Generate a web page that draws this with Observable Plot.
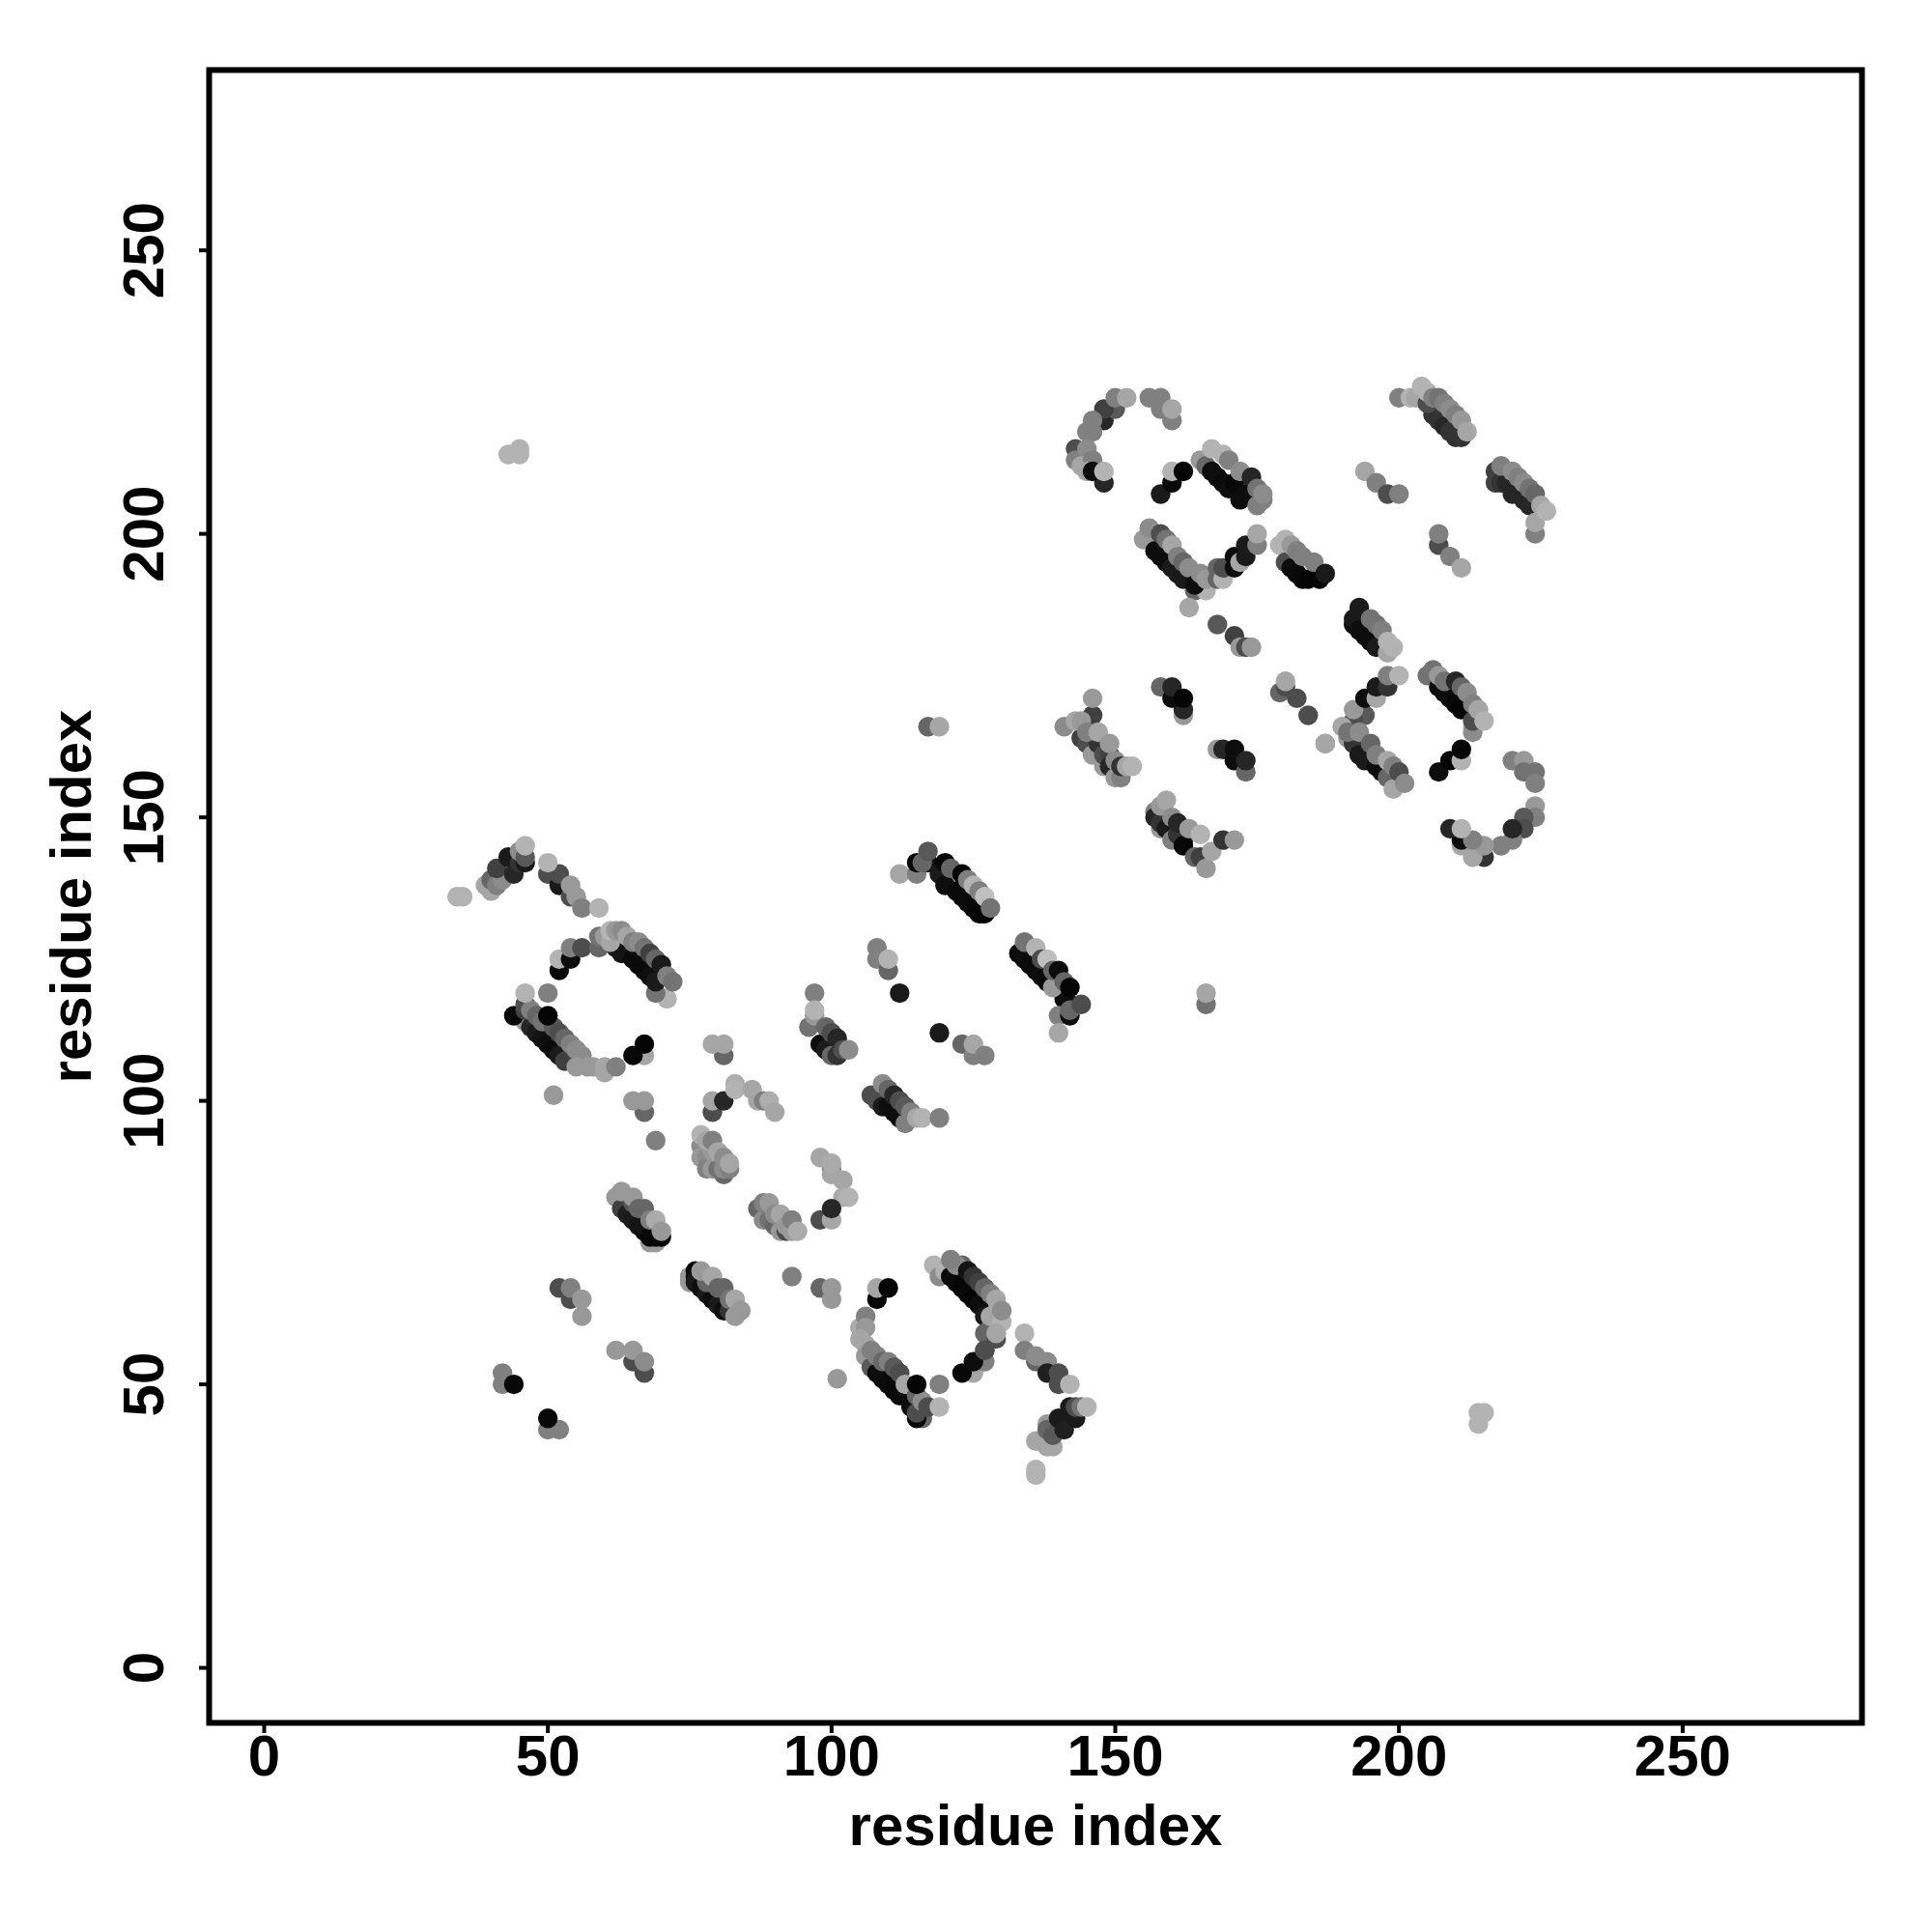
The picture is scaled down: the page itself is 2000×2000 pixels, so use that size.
<!DOCTYPE html>
<html>
<head>
<meta charset="utf-8">
<script src="https://cdn.jsdelivr.net/npm/d3@7"></script>
<script src="https://cdn.jsdelivr.net/npm/@observablehq/plot@0.6"></script>
<style>html,body{margin:0;padding:0;background:#fff}svg{display:block}</style>
</head>
<body>
<div id="chart"></div>
<script>
// each entry: [residue i, residue j, shade]
const lowerLeft = [[42,52,.5],[42,50,.5],[44,50,.03],[50,42,.5],[52,42,.5],[50,44,.03],[65,54,.3],[67,52,.3],[62,56,.6],[65,56,.6],[67,54,.55],[52,67,.3],[54,65,.3],[54,67,.5],[56,65,.6],[56,62,.6],[51,101,.6],[67,98,.4],[65,100,.6],[67,100,.6],[69,93,.5]];
const strandA = [[69,75,.6],[68,75,.6],[62,83,.6],[64,82,.35],[63,81,.25],[64,80,.12],[65,79,.1],[66,78,.08],[67,77,.05],[67,78,.08],[68,76,.03],[70,76,.02],[69,76,.03],[63,84,.6],[65,82,.35],[65,83,.6],[66,81,.4],[67,81,.4],[68,79,.5],[69,79,.67],[70,77,.6]];
const strandB = [[75,69,.6],[75,68,.6],[76,70,.03],[76,69,.05],[76,68,.1],[77,67,.05],[78,66,.1],[79,65,.05],[80,64,.1],[81,63,.05],[82,63,.2],[78,68,.4],[77,70,.6],[79,69,.65],[80,67,.4],[81,67,.4],[82,65,.45],[83,62,.6],[83,65,.65],[84,63,.6]];
const clusterC = [[77,92,.55],[77,90,.6],[78,90,.55],[78,88,.5],[79,88,.6],[81,87,.4],[80,88,.45],[81,88,.55],[82,88,.5],[79,91,.6],[77,94,.7],[78,93,.65],[79,93,.5],[80,91,.65],[81,90,.55],[82,89,.65]];
const clusterD = [[87,81,.4],[88,79,.55],[89,79,.45],[90,78,.4],[91,77,.6],[92,77,.3],[93,77,.6],[88,82,.5],[89,82,.6],[90,80,.55],[91,80,.65],[92,78,.6],[93,79,.5],[94,77,.67]];
const clusterE = [[79,98,.3],[79,100,.65],[81,100,.15],[83,103,.68],[83,102,.7],[86,102,.65],[87,100,.65],[88,100,.5],[89,100,.68],[90,98,.65]];
const clusterF = [[98,90,.65],[100,88,.5],[100,87,.65],[100,89,.67],[102,86,.65],[102,83,.67],[103,83,.7],[98,79,.3],[100,79,.65],[100,81,.15],[93,69,.5],[98,67,.4],[100,65,.6],[100,67,.6],[101,51,.6]];
const strandG = [[105,60,.67],[106,62,.5],[106,60,.6],[105,58,.65],[106,57,.65],[106,55,.6],[107,53,.35],[108,52,.05],[109,51,.05],[110,50,.04],[111,49,.03],[112,48,.04],[114,46,.05],[116,44,.4],[115,44,.03],[115,45,.3],[107,56,.5],[108,55,.5],[109,54,.4],[110,54,.5],[111,53,.35],[112,52,.3],[113,50,.65],[115,48,.4],[116,47,.55],[117,46,.3],[119,46,.7],[108,65,.03],[108,67,.65],[110,67,.02],[115,50,.02],[119,50,.5]];
const hoopBottom = [[127,59,.4],[127,56,.3],[125,52,.65],[127,54,.5],[123,52,.03],[125,54,.05],[127,56,.3]];
const strandH = [[118,71,.7],[119,69,.55],[120,70,.7],[121,69,.04],[122,68,.04],[123,67,.02],[124,66,.03],[125,65,.02],[126,64,.05],[127,62,.1],[129,59,.3],[129,58,.3],[128,60,.4],[123,71,.4],[122,71,.55],[121,72,.5],[124,70,.08],[125,69,.2],[126,68,.25],[127,67,.4],[128,66,.5],[128,62,.65],[130,61,.7],[129,59,.65],[129,65,.65],[130,63,.55]];
const tailRight = [[134,59,.7],[134,56,.5],[136,54,.4],[136,55,.55],[138,54,.55],[138,52,.12],[140,50,.3],[140,52,.3],[142,50,.7]];
const helixI = [[136,34,.7],[136,35,.7],[136,40,.65],[137,40,.65],[138,39,.65],[139,39,.65],[138,43,.6],[138,42,.4],[139,41,.35],[140,44,.1],[141,42,.12],[142,46,.1],[143,44,.1],[143,46,.3],[144,46,.45],[145,46,.7]];
const arcLeft = [[34,136,.7],[35,136,.7],[39,138,.65],[40,137,.65],[40,139,.4],[41,138,.5],[42,139,.55],[41,141,.25],[43,143,.1],[44,140,.15],[45,142,.2],[46,142,.1],[45,144,.55],[46,143,.35],[46,145,.7]];
const arcDown = [[50,140,.3],[52,138,.1],[54,136,.3],[52,140,.3],[50,142,.7],[54,138,.6],[55,136,.6],[56,134,.5],[59,134,.7]];
const strandJ = [[52,123,.03],[52,125,.7],[54,125,.05],[54,127,.5],[56,127,.3],[59,127,.4],[59,129,.45],[60,129,.6],[71,118,.7],[69,119,.45],[62,127,.1],[63,126,.08],[65,125,.04],[66,124,.04],[67,123,.04],[68,122,.06],[69,121,.1],[61,128,.65],[61,130,.7],[62,130,.6],[63,130,.55],[64,129,.65],[65,128,.5],[66,128,.55],[67,127,.45],[68,126,.25],[69,125,.4],[70,124,.1],[71,122,.5],[72,121,.45]];
const strandK = [[46,114,.6],[44,115,.03],[47,113,.15],[48,112,.1],[49,111,.07],[50,110,.05],[51,109,.04],[52,108,.1],[53,107,.25],[46,116,.25],[46,117,.3],[47,116,.5],[48,115,.4],[46,119,.7],[50,119,.5],[49,114,.45],[51,113,.35],[52,112,.3],[53,111,.4],[54,110,.5],[55,109,.55],[56,108,.55],[55,106,.6],[57,106,.6],[58,106,.6],[60,105,.65],[60,106,.65],[62,106,.5],[50,115,.02],[67,108,.65],[65,108,.03],[67,110,.02],[81,108,.4],[79,110,.65],[81,110,.65]];
const strandL = [[112,140,.65],[115,140,.5],[120,139,.7],[115,142,.03],[117,142,.05],[119,140,.1],[120,138,.05],[122,137,.04],[123,136,.04],[124,135,.04],[125,134,.03],[126,133,.02],[127,133,.02],[116,142,.4],[117,144,.35],[120,142,.03],[121,141,.4],[123,140,.02],[124,139,.5],[125,138,.7],[126,137,.5],[127,136,.75],[128,134,.45]];
const strandM = [[133,126,.05],[134,125,.05],[135,124,.04],[136,123,.04],[137,122,.05],[138,121,.04],[140,120,.05],[141,118,.05],[142,117,.05],[139,120,.6],[140,115,.5],[140,112,.65],[142,115,.05],[142,116,.4],[134,128,.45],[136,127,.7],[137,125,.3],[138,125,.75],[139,123,.4],[140,123,.05],[141,121,.4],[142,120,.02],[144,117,.3]];
const middlePairs = [[108,127,.5],[108,125,.5],[110,123,.4],[110,125,.7],[112,119,.1],[119,112,.1],[123,110,.4],[125,108,.5],[125,110,.65],[127,108,.5]];
const clusterN = [[96,113,.45],[98,110,.05],[99,109,.1],[100,108,.4],[101,108,.2],[97,119,.5],[97,115,.6],[97,116,.7],[99,113,.4],[100,112,.3],[101,111,.15],[102,109,.3],[103,109,.55]];
const strandN = [[107,101,.3],[108,100,.3],[109,99,.1],[110,99,.05],[111,98,.05],[112,97,.05],[113,96,.5],[109,103,.55],[110,102,.4],[111,101,.15],[112,100,.3],[113,99,.35],[114,98,.5],[115,97,.65],[116,97,.7],[119,97,.5]];
const clusterP = [[146,168,.25],[146,171,.6],[141,166,.55],[144,164,.25],[145,163,.3],[146,161,.6],[147,163,.2],[143,167,.65],[144,167,.6],[145,165,.5],[147,165,.65],[148,159,.6],[148,161,.3],[149,161,.25],[149,159,.15],[150,157,.6],[151,157,.5],[149,163,.6],[150,160,.55],[151,159,.2],[152,159,.65],[153,159,.7]];
const clusterQ = [[157,151,.5],[158,148,.6],[157,150,.15],[158,149,.2],[159,148,.1],[160,146,.5],[161,147,.2],[162,146,.2],[162,145,.03],[164,143,.4],[165,143,.25],[166,141,.6],[158,152,.6],[159,153,.65],[160,150,.55],[161,149,.15],[163,148,.6],[165,147,.7],[167,144,.65],[169,146,.2],[171,146,.6]];
const midUpper = [[158,173,.4],[162,168,.6],[162,169,.15],[160,171,.05],[160,173,.15],[162,171,.02],[168,162,.6],[169,162,.15],[171,160,.05],[171,162,.05],[173,158,.4],[173,160,.15],[179,172,.4],[180,173,.3],[180,174,.65],[182,171,.3],[184,168,.3],[187,163,.65]];
const arcR = [[148,220,.15],[150,222,.35],[148,222,.25],[150,224,.5],[152,224,.65],[146,220,.5],[145,218,.5],[146,218,.5],[143,215,.3],[143,213,.5],[145,215,.55],[144,212,.65],[146,213,.5],[145,211,.65],[148,209,.15],[146,211,.05],[148,211,.7],[156,224,.5],[158,222,.5],[158,224,.5],[160,220,.5],[160,222,.65]];
const clusterS = [[158,207,.1],[160,209,.03],[160,211,.7],[162,211,.02],[165,213,.6],[166,212,.4],[167,211,.05],[168,210,.05],[169,209,.04],[170,208,.05],[171,209,.03],[172,206,.05],[173,207,.05],[175,205,.5],[176,206,.5],[167,215,.7],[169,214,.7],[170,213,.5],[172,211,.55],[174,210,.15],[175,208,.45],[176,207,.55]];
const clusterT = [[155,199,.6],[157,197,.05],[158,196,.05],[159,195,.05],[160,194,.1],[161,193,.1],[162,192,.1],[164,190,.4],[166,190,.7],[163,187,.65],[156,201,.55],[158,200,.3],[159,199,.45],[160,198,.65],[161,196,.5],[162,195,.4],[163,194,.55],[164,191,.05],[165,193,.55],[166,192,.6],[168,192,.4],[168,194,.4],[169,192,.7],[169,194,.3],[171,194,.05],[171,196,.05],[172,195,.65],[173,196,.1],[173,198,.1],[175,198,.5],[175,200,.65]];
const clusterU = [[179,198,.7],[180,195,.3],[181,194,.05],[182,193,.04],[183,192,.03],[184,192,.02],[186,192,.02],[180,199,.7],[181,198,.6],[182,197,.5],[183,196,.5],[185,195,.5],[187,193,.1]];
const midDiag = [[168,184,.35],[171,182,.25],[172,180,.6],[173,180,.3],[174,180,.6]];
const strandV = [[192,184,.05],[192,185,.1],[193,187,.1],[193,183,.05],[194,182,.05],[195,181,.05],[196,180,.1],[198,179,.65],[195,185,.45],[196,184,.45],[197,183,.5],[198,181,.7],[199,180,.7]];
const clusterW = [[194,168,.35],[192,167,.3],[192,169,.6],[194,171,.05],[196,171,.65],[196,173,.1],[198,173,.2],[198,175,.5],[200,175,.7],[190,166,.65],[191,164,.6],[192,163,.2],[193,161,.1],[194,160,.1],[195,160,.1],[196,159,.05],[197,158,.05],[198,157,.4],[199,155,.65],[191,165,.45],[193,165,.55],[195,163,.4],[196,161,.5],[198,160,.65],[199,159,.5],[200,158,.3],[201,156,.55],[187,163,.65]];
const clusterX = [[205,175,.45],[207,173,.05],[208,172,.05],[209,171,.05],[210,170,.03],[211,169,.02],[213,166,.7],[213,165,.55],[213,167,.3],[206,176,.45],[207,175,.6],[208,174,.45],[210,174,.15],[211,173,.4],[212,172,.55],[213,170,.5],[214,169,.65],[215,167,.7]];
const hoopX = [[207,158,.05],[209,160,.02],[211,160,.7],[211,162,.02],[207,198,.3],[207,200,.5],[209,196,.5],[211,194,.65]];
const arcY = [[220,160,.5],[222,160,.6],[222,158,.45],[224,158,.45],[224,156,.5],[224,152,.6],[224,150,.5],[222,150,.35],[222,148,.3],[220,146,.5],[220,148,.15],[218,145,.5],[215,143,.2],[213,143,.65],[215,145,.6],[211,145,.65],[211,146,.05],[213,146,.5],[209,148,.15],[211,148,.7]];
const strandZ = [[206,221,.2],[207,220,.2],[208,219,.15],[209,218,.2],[211,217,.2],[210,217,.2],[200,224,.5],[202,224,.7],[203,224,.65],[205,223,.3],[204,226,.7],[205,225,.7],[206,224,.5],[207,224,.45],[208,223,.5],[209,222,.55],[210,221,.5],[211,220,.6],[212,218,.65],[194,211,.65],[196,209,.5],[198,207,.3],[200,207,.5]];
const strandAA = [[217,211,.25],[217,209,.25],[218,209,.2],[219,209,.15],[220,207,.15],[221,207,.15],[222,206,.15],[223,205,.15],[224,200,.5],[224,202,.65],[218,212,.5],[220,211,.55],[221,210,.5],[222,209,.55],[223,208,.45],[224,207,.4],[225,205,.65],[226,204,.7]];
const isolated = [[214,43,.7],[214,45,.7],[215,45,.7],[43,214,.7],[45,214,.7],[45,215,.7],[117,166,.4],[119,166,.65],[166,117,.45],[166,119,.65]];

const axisTicks = [0, 50, 100, 150, 200, 250];
const axisLabel = "residue index";

const groups = [lowerLeft, strandA, strandB, clusterC, clusterD, clusterE, clusterF, strandG, hoopBottom, strandH, tailRight, helixI, arcLeft, arcDown, strandJ, strandK, strandL, strandM, middlePairs, clusterN, strandN, clusterP, clusterQ, midUpper, arcR, clusterS, clusterT, clusterU, midDiag, strandV, clusterW, clusterX, hoopX, arcY, strandZ, strandAA, isolated];
const table = groups.flat().map(([i, j, shade]) => ({i, j, shade}));

const font = "'Liberation Sans', Arial, Helvetica, sans-serif";
const chart = Plot.plot({
  width: 2000,
  height: 2000,
  marginLeft: 216,
  marginRight: 73,
  marginTop: 72,
  marginBottom: 217,
  style: {background: "#fff", fontFamily: font},
  x: {domain: [-9.7, 281.6]},
  y: {domain: [-9.7, 281.8]},
  color: {type: "linear", domain: [0, 1], range: ["#000000", "#ffffff"]},
  marks: [
    Plot.dot(table, {x: "i", y: "j", r: 10.2, fill: "shade", stroke: "none"}),
    Plot.frame({stroke: "#000", strokeWidth: 6}),
    Plot.axisX({ticks: axisTicks, tickFormat: "d", tickSize: 11, tickPadding: 1, fontSize: 60, fontWeight: "bold", strokeWidth: 4, stroke: "#000", fill: "#000",
      label: axisLabel, labelAnchor: "center", labelArrow: false, labelOffset: 126, color: "#000"}),
    Plot.axisY({ticks: axisTicks, tickFormat: "d", tickSize: 10, tickPadding: 38, tickRotate: -90, fontSize: 60, fontWeight: "bold", strokeWidth: 4, stroke: "#000", fill: "#000",
      label: axisLabel, labelAnchor: "center", labelArrow: false, labelOffset: 165, color: "#000"})
  ]
});
document.getElementById("chart").appendChild(chart);
</script>
</body>
</html>
